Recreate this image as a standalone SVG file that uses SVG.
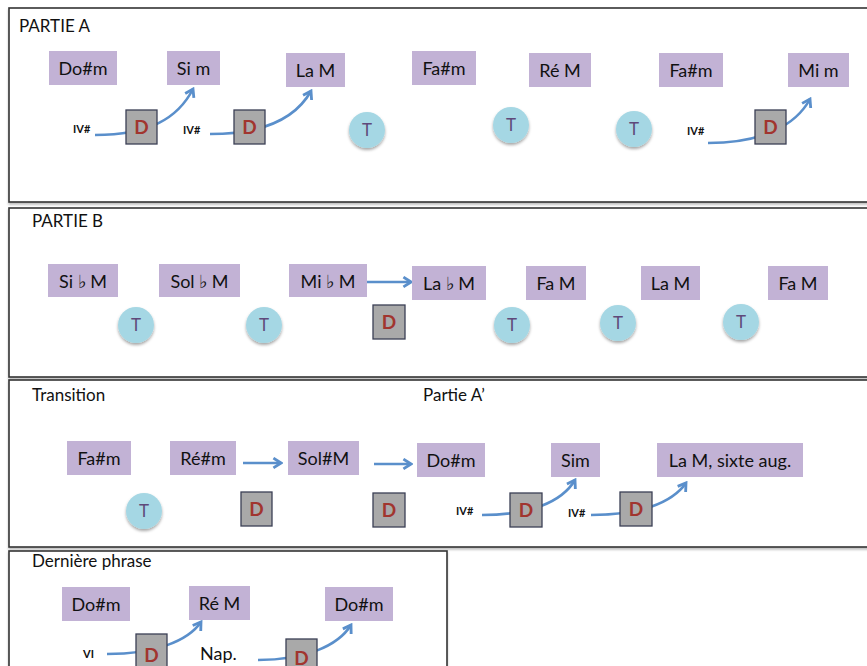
<svg xmlns="http://www.w3.org/2000/svg" width="867" height="666" viewBox="0 0 867 666">
<defs>
<style>
.panel{fill:#fff;stroke:#333;stroke-width:1.6;filter:url(#psh)}
.title{font-family:Lato,"Liberation Sans",sans-serif;font-size:17px;fill:#111}
.chord rect{fill:#C2B2D5}
.chord text{font-family:Lato,"Liberation Sans",sans-serif;font-size:18px;fill:#111;text-anchor:middle}
.dom rect{fill:#A9A9A9;stroke:#3B3F55;stroke-width:1.3}
.dom text{font-family:Lato,"Liberation Sans",sans-serif;font-size:19px;font-weight:bold;fill:#A1352F;text-anchor:middle}
.ton circle{fill:#A5D7E4;filter:url(#csh)}
.ton text{font-family:Lato,"Liberation Sans",sans-serif;font-size:17px;fill:#5F497A;text-anchor:middle}
.lbl{font-family:Lato,"Liberation Sans",sans-serif;font-size:11px;font-weight:bold;fill:#111}
.conn path{fill:none;stroke:#5A8FCB;stroke-width:2.6;marker-end:url(#ah)}
</style>
<filter id="csh" x="-30%" y="-30%" width="160%" height="170%"><feDropShadow dx="0" dy="2" stdDeviation="1.5" flood-color="#000" flood-opacity="0.35"/></filter>
<filter id="psh" x="-5%" y="-5%" width="110%" height="110%"><feDropShadow dx="0" dy="2" stdDeviation="1" flood-color="#000" flood-opacity="0.25"/></filter>
<marker id="ah" viewBox="0 0 12 12" refX="10" refY="6" markerWidth="13" markerHeight="13" markerUnits="userSpaceOnUse" orient="auto"><path d="M3,1.5 L10,6 L3,10.5" fill="none" stroke="#5A8FCB" stroke-width="2.6"/></marker>
</defs>
<rect width="867" height="666" fill="#fff"/>

<g id="panels">
<rect class="panel" x="9" y="8" width="870" height="194"/>
<rect class="panel" x="9" y="208" width="870" height="169"/>
<rect class="panel" x="9" y="380" width="870" height="167"/>
<rect class="panel" x="9" y="551" width="438" height="130"/>
<text class="title" x="19" y="32">PARTIE A</text>
<text class="title" x="32" y="227">PARTIE B</text>
<text class="title" x="32" y="401">Transition</text>
<text class="title" x="423" y="401">Partie A’</text>
<text class="title" x="32" y="567">Dernière phrase</text>
</g>

<g id="connectors" class="conn">
<path d="M95,135 C150,135 178,118 193,89"/>
<path d="M210,134 C265,134 296,118 311,91"/>
<path d="M708,143 C763,143 796,125 810,99"/>
<path d="M367,282 L411,282"/>
<path d="M243,463 L281,463"/>
<path d="M374,464 L411,464"/>
<path d="M482,515 C530,515 562,502 575,480"/>
<path d="M591,515 C640,515 672,503 686,483"/>
<path d="M107,654 C155,654 188,641 201,622"/>
<path d="M258,660 C305,660 338,646 351,625"/>
</g>

<g id="a-c1" class="chord"><rect x="49" y="51" width="68" height="34"/><text x="83" y="75">Do#m</text></g>
<g id="a-c2" class="chord"><rect x="167" y="51" width="53" height="34"/><text x="193.5" y="75">Si m</text></g>
<g id="a-c3" class="chord"><rect x="286" y="53" width="59" height="34"/><text x="315.5" y="77">La M</text></g>
<g id="a-c4" class="chord"><rect x="412" y="51" width="64" height="34"/><text x="444" y="75">Fa#m</text></g>
<g id="a-c5" class="chord"><rect x="529" y="53" width="62" height="34"/><text x="560" y="77">Ré M</text></g>
<g id="a-c6" class="chord"><rect x="659" y="53" width="64" height="34"/><text x="691" y="77">Fa#m</text></g>
<g id="a-c7" class="chord"><rect x="788" y="53" width="61" height="34"/><text x="818.5" y="77">Mi m</text></g>
<g id="a-d1" class="dom"><rect x="126" y="110" width="31" height="34"/><text x="141.5" y="134">D</text></g>
<g id="a-d2" class="dom"><rect x="234" y="110" width="31" height="34"/><text x="249.5" y="134">D</text></g>
<g id="a-d3" class="dom"><rect x="755" y="110" width="31" height="34"/><text x="770.5" y="134">D</text></g>
<g id="a-l1"><text class="lbl" x="73" y="133">IV#</text></g>
<g id="a-l2"><text class="lbl" x="183" y="134">IV#</text></g>
<g id="a-l3"><text class="lbl" x="687" y="135">IV#</text></g>
<g id="a-t1" class="ton"><circle cx="367" cy="130" r="18"/><text x="367" y="136">T</text></g>
<g id="a-t2" class="ton"><circle cx="511" cy="125" r="18"/><text x="511" y="131">T</text></g>
<g id="a-t3" class="ton"><circle cx="634" cy="129" r="18"/><text x="634" y="135">T</text></g>

<g id="b-c1" class="chord"><rect x="48" y="264" width="70" height="33"/><text x="83" y="288">Si ♭ M</text></g>
<g id="b-c2" class="chord"><rect x="159" y="264" width="81" height="33"/><text x="199.5" y="288">Sol ♭ M</text></g>
<g id="b-c3" class="chord"><rect x="289" y="264" width="78" height="33"/><text x="328" y="288">Mi ♭ M</text></g>
<g id="b-c4" class="chord"><rect x="412" y="266" width="74" height="34"/><text x="449" y="290">La ♭ M</text></g>
<g id="b-c5" class="chord"><rect x="526" y="266" width="60" height="34"/><text x="556" y="290">Fa M</text></g>
<g id="b-c6" class="chord"><rect x="641" y="266" width="59" height="34"/><text x="670.5" y="290">La M</text></g>
<g id="b-c7" class="chord"><rect x="768" y="266" width="60" height="34"/><text x="798" y="290">Fa M</text></g>
<g id="b-t1" class="ton"><circle cx="136" cy="325" r="18"/><text x="136" y="331">T</text></g>
<g id="b-t2" class="ton"><circle cx="264" cy="325" r="18"/><text x="264" y="331">T</text></g>
<g id="b-t3" class="ton"><circle cx="512" cy="325" r="18"/><text x="512" y="331">T</text></g>
<g id="b-t4" class="ton"><circle cx="618" cy="323" r="18"/><text x="618" y="329">T</text></g>
<g id="b-t5" class="ton"><circle cx="741" cy="322" r="18"/><text x="741" y="328">T</text></g>
<g id="b-d1" class="dom"><rect x="373" y="305" width="32" height="34"/><text x="389" y="329">D</text></g>

<g id="t-c1" class="chord"><rect x="67" y="441" width="64" height="34"/><text x="99" y="465">Fa#m</text></g>
<g id="t-c2" class="chord"><rect x="170" y="441" width="66" height="34"/><text x="203" y="465">Ré#m</text></g>
<g id="t-c3" class="chord"><rect x="288" y="441" width="71" height="34"/><text x="323.5" y="465">Sol#M</text></g>
<g id="t-c4" class="chord"><rect x="417" y="443" width="68" height="34"/><text x="451" y="467">Do#m</text></g>
<g id="t-c5" class="chord"><rect x="551" y="443" width="49" height="34"/><text x="575.5" y="467">Sim</text></g>
<g id="t-c6" class="chord"><rect x="657" y="443" width="146" height="34"/><text x="730" y="467">La M, sixte aug.</text></g>
<g id="t-t1" class="ton"><circle cx="144" cy="511" r="18"/><text x="144" y="517">T</text></g>
<g id="t-d1" class="dom"><rect x="241" y="492" width="31" height="34"/><text x="256.5" y="516">D</text></g>
<g id="t-d2" class="dom"><rect x="373" y="493" width="32" height="34"/><text x="389" y="517">D</text></g>
<g id="t-d3" class="dom"><rect x="510" y="493" width="32" height="34"/><text x="526" y="517">D</text></g>
<g id="t-d4" class="dom"><rect x="620" y="492" width="32" height="34"/><text x="636" y="516">D</text></g>
<g id="t-l1"><text class="lbl" x="456" y="515">IV#</text></g>
<g id="t-l2"><text class="lbl" x="568" y="517">IV#</text></g>

<g id="d-c1" class="chord"><rect x="62" y="587" width="68" height="34"/><text x="96" y="611">Do#m</text></g>
<g id="d-c2" class="chord"><rect x="189" y="586" width="61" height="34"/><text x="219.5" y="610">Ré M</text></g>
<g id="d-c3" class="chord"><rect x="325" y="587" width="68" height="34"/><text x="359" y="611">Do#m</text></g>
<g id="d-d1" class="dom"><rect x="136" y="634" width="31" height="34"/><text x="151.5" y="662">D</text></g>
<g id="d-d2" class="dom"><rect x="286" y="639" width="31" height="34"/><text x="301.5" y="665">D</text></g>
<g id="d-l1"><text class="lbl" x="83" y="658">VI</text></g>
<g id="d-l2"><text class="title" x="200" y="660" style="font-size:18px">Nap.</text></g>
</svg>
